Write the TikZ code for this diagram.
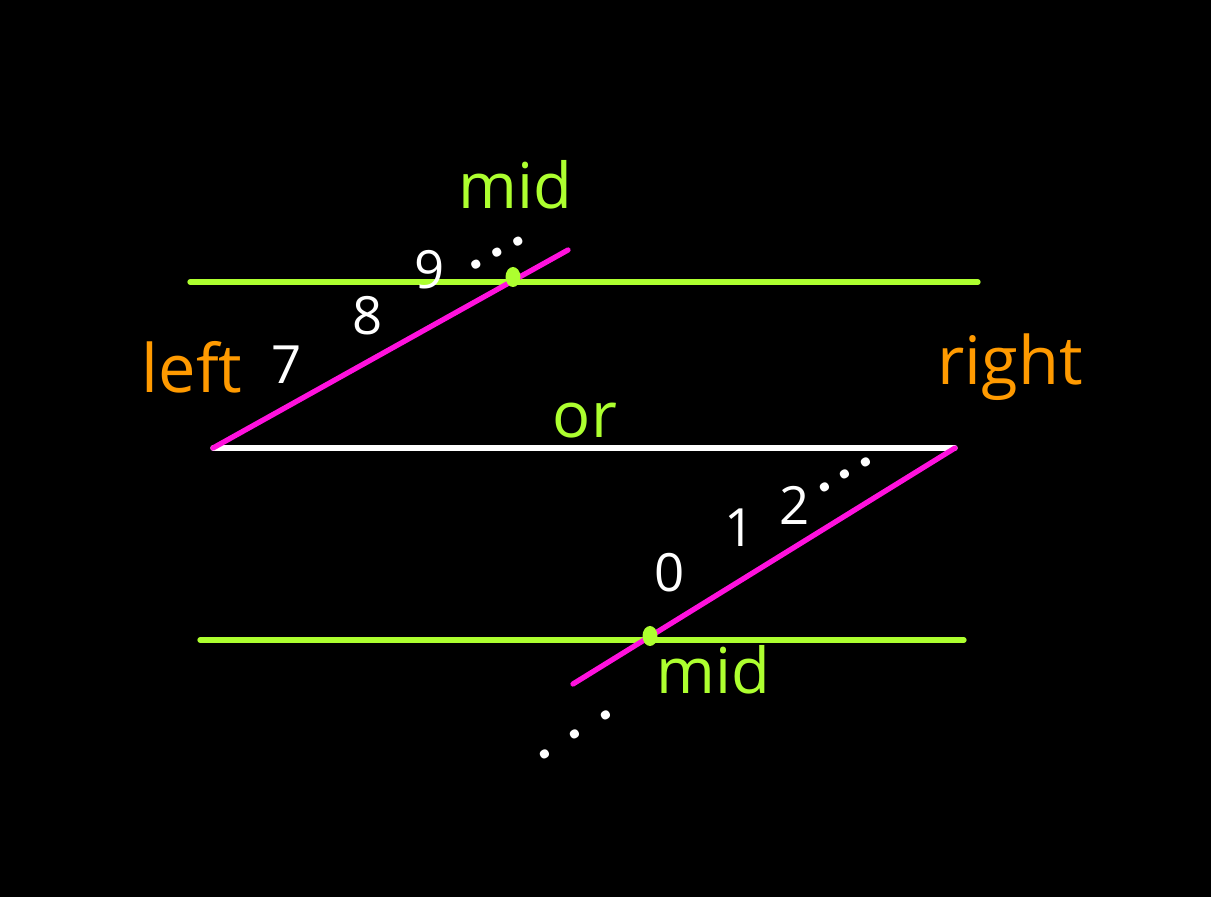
\documentclass[tikz,border=0pt]{standalone}
\usepackage{fontspec}
\setmainfont{Open Sans}
\definecolor{limeline}{HTML}{ADFF2F}
\definecolor{pinkline}{HTML}{FF11DD}
\definecolor{orangetext}{HTML}{FF9A00}
\tikzset{
  limeedge/.style={draw=limeline, line width=1.5pt, line cap=round},
  pinkedge/.style={draw=pinkline, line width=1.5pt, line cap=round},
  whiteedge/.style={draw=white, line width=1.5pt, line cap=round},
  middot/.style={ellipse, fill=limeline, inner sep=0pt, minimum width=0.15cm, minimum height=0.2cm},
  digit/.style={text=white, font=\fontsize{15}{18}\selectfont},
  dotrow/.style={text=white, font=\fontsize{15}{18}\selectfont\bfseries, inner sep=0pt,
    text height=0.25ex, text depth=0pt},
  limetext/.style={text=limeline, font=\fontsize{18}{22}\selectfont},
  sidetext/.style={text=orangetext, font=\fontsize{19}{23}\selectfont}
}
\usetikzlibrary{shapes.geometric}
\begin{document}
\begin{tikzpicture}
  \fill[black] (0,0) rectangle (12.11,8.97);
  \useasboundingbox (0,0) rectangle (12.11,8.97);

  % end points
  \coordinate (topl)  at (1.90,6.15);
  \coordinate (topr)  at (9.78,6.15);
  \coordinate (botl)  at (2.00,2.57);
  \coordinate (botr)  at (9.64,2.57);
  \coordinate (lft)   at (2.13,4.49);
  \coordinate (rgt)   at (9.55,4.49);
  \coordinate (upend) at (5.68,6.47);
  \coordinate (dnend) at (5.73,2.13);

  % lines
  \draw[limeedge]  (topl) -- (topr);
  \draw[limeedge]  (botl) -- (botr);
  \draw[whiteedge] (lft) -- (rgt);
  \draw[pinkedge]  (lft) -- (upend);
  \draw[pinkedge]  (rgt) -- (dnend);

  \node (dotup) [middot] at (5.13,6.20) {};
  \node (dotdn) [middot] at (6.50,2.61) {};

  % labels
  \node (midup)  [limetext] at (5.15,7.12) {mid};
  \node (middn)  [limetext] at (7.13,2.27) {mid};
  \node (orlab)  [limetext] at (5.85,4.76) {or};
  \node (leftl)  [sidetext] at (1.92,5.30) {left};
  \node (rightl) [sidetext] at (10.10,5.30) {right};

  \node (seven) [digit] at (2.87,5.32) {7};
  \node (eight) [digit] at (3.68,5.81) {8};
  \node (nine)  [digit] at (4.30,6.27) {9};
  \node (moreup) [dotrow, rotate=29] at (4.98,6.43) {.\,.\,.};

  \node (zero) [digit] at (6.70,3.24) {0};
  \node (one)  [digit] at (7.40,3.69) {1};
  \node (two)  [digit] at (7.95,3.92) {2};
  \node (morer) [dotrow, rotate=32] at (8.46,4.21) {.\,.\,.};
  \node (moredn) [dotrow, rotate=32] at (5.76,1.61) {.\hspace{6pt}.\hspace{6pt}.};
\end{tikzpicture}
\end{document}
